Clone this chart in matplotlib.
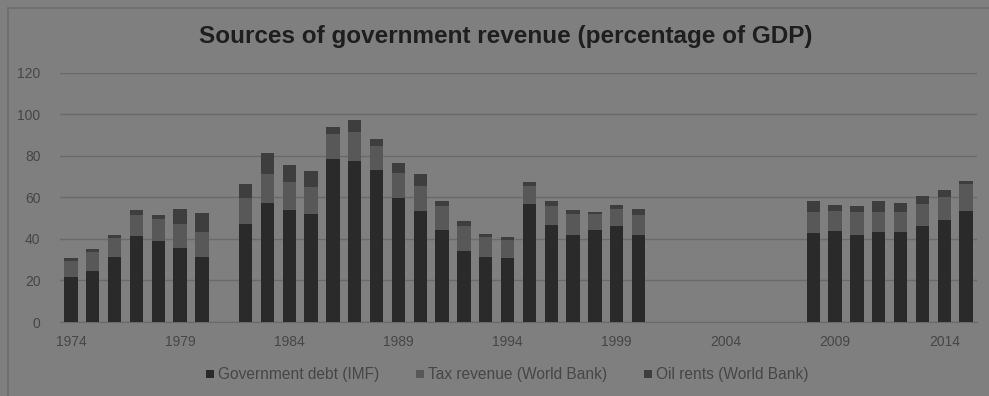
import numpy as np
import matplotlib.pyplot as plt
from matplotlib.patches import Rectangle

# Years with data (no data for 1981 and 2001-2007)
years = [1974, 1975, 1976, 1977, 1978, 1979, 1980,
         1982, 1983, 1984, 1985, 1986, 1987, 1988, 1989, 1990,
         1991, 1992, 1993, 1994, 1995, 1996, 1997, 1998, 1999, 2000,
         2008, 2009, 2010, 2011, 2012, 2013, 2014, 2015]

# Percentage of GDP
gov_debt = [21.5, 24.6, 31.3, 41.3, 39.0, 35.5, 31.2,
            47.4, 57.3, 53.8, 51.8, 78.4, 77.4, 73.4, 59.5, 53.5,
            44.2, 34.2, 31.3, 30.7, 56.6, 46.6, 42.1, 44.2, 46.1, 41.9,
            42.6, 43.9, 41.9, 43.1, 43.1, 46.1, 49.3, 53.5]
tax_revenue = [7.9, 9.0, 9.0, 10.1, 10.6, 11.6, 12.0,
               12.1, 13.7, 13.4, 13.3, 12.1, 14.0, 11.3, 12.3, 11.9,
               11.6, 11.9, 9.4, 8.7, 8.8, 9.2, 9.7, 7.7, 8.5, 9.5,
               10.4, 9.6, 11.0, 9.8, 9.8, 10.5, 10.9, 12.9]
oil_rents = [1.6, 1.3, 1.8, 2.3, 1.8, 7.1, 9.3,
             6.7, 10.4, 8.3, 7.7, 3.3, 5.7, 3.3, 4.7, 5.6,
             2.5, 2.4, 1.6, 1.6, 2.1, 2.4, 2.0, 1.1, 1.8, 2.8,
             5.2, 2.7, 2.9, 5.3, 4.6, 4.1, 3.3, 1.5]

series_labels = ['Government debt (IMF)', 'Tax revenue (World Bank)', 'Oil rents (World Bank)']
tick_years = [1974, 1979, 1984, 1989, 1994, 1999, 2004, 2009, 2014]

bg = '#7f7f7f'
colors = ['#2a2a2a', '#585858', '#3e3e3e']

plt.rcParams['font.family'] = ['Liberation Sans', 'DejaVu Sans']

fig = plt.figure(figsize=(9.89, 3.96), dpi=100, facecolor=bg)

# chart frame (cut off at right and bottom)
fig.patches.append(Rectangle((8 / 989, -0.1), 1.2, 1 - 8 / 396 + 0.1,
                             transform=fig.transFigure, fill=False,
                             edgecolor='#6c6c6c', linewidth=1.2))

ax = fig.add_axes([60 / 989, 1 - 322 / 396, (977 - 60) / 989, (322 - 72.7) / 396])
ax.set_facecolor(bg)

x = np.array(years)
debt = np.array(gov_debt)
tax = np.array(tax_revenue)
oil = np.array(oil_rents)
w = 0.61
ax.bar(x, debt, w, color=colors[0], label=series_labels[0], zorder=3)
ax.bar(x, tax, w, bottom=debt, color=colors[1], label=series_labels[1], zorder=3)
ax.bar(x, oil, w, bottom=debt + tax, color=colors[2], label=series_labels[2], zorder=3)

ax.set_xlim(1973.5, 2015.5)
ax.set_ylim(0, 120)
ax.set_yticks(range(0, 121, 20))
ax.set_xticks(tick_years)
ax.grid(axis='y', color='#6a6a6a', linewidth=1.0, zorder=0)
for side in ['top', 'right', 'left']:
    ax.spines[side].set_visible(False)
ax.spines['bottom'].set_color('#6a6a6a')
ax.tick_params(length=0, labelsize=10, labelcolor='#464646')
ax.tick_params(axis='x', pad=9)
ax.tick_params(axis='y', pad=14)

fig.text(0.511, 1 - 37 / 396, 'Sources of government revenue (percentage of GDP)',
         ha='center', va='center', fontsize=17.5, fontweight='bold', color='#1e1e1e')

leg = fig.legend(loc='center', bbox_to_anchor=(0.513, 1 - 375 / 396), ncol=3,
                 frameon=False, fontsize=11.2, handlelength=0.5, handleheight=0.5,
                 handletextpad=0.25, columnspacing=2.4, labelcolor='#464646')

fig.savefig('out.png', dpi=100, facecolor=bg)
